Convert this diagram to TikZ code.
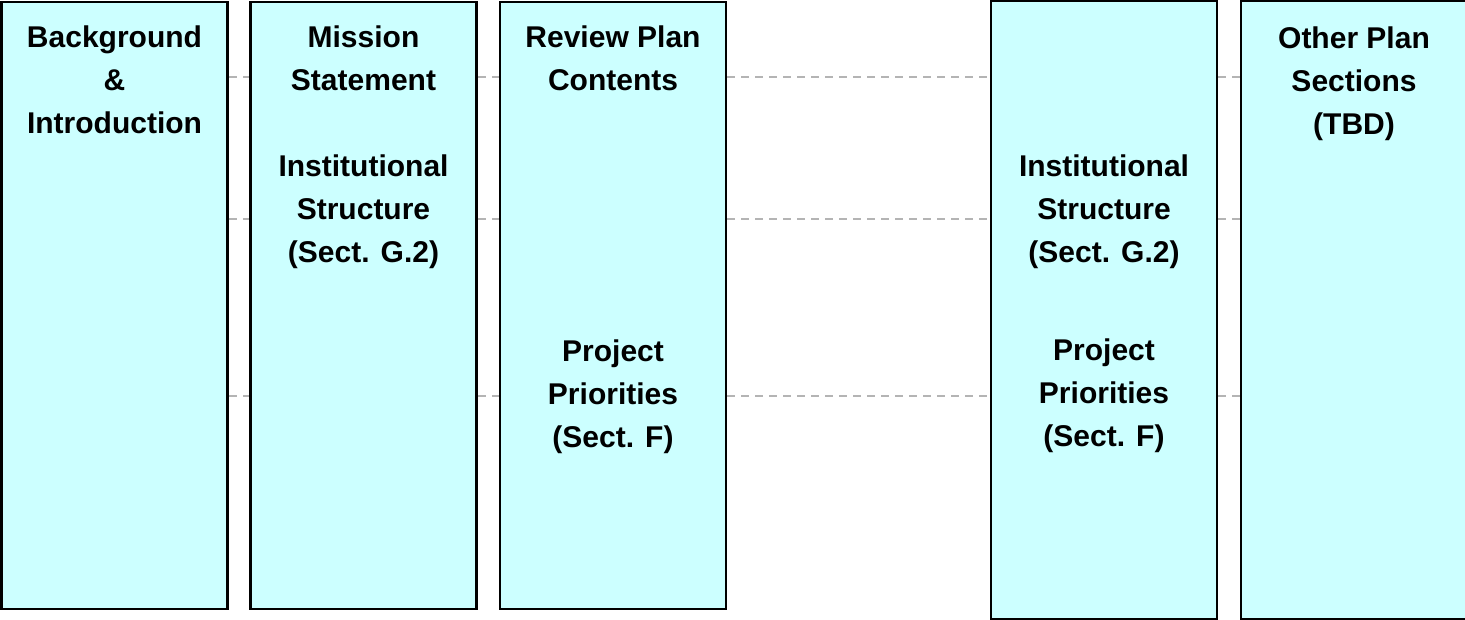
\documentclass[tikz,border=0pt]{standalone}
\usepackage{fontspec}
\setmainfont{Liberation Sans}
\definecolor{boxfill}{HTML}{CCFFFF}
\definecolor{dashgray}{HTML}{B4B4B4}
\begin{document}
\begin{tikzpicture}[x=1pt,y=-1pt,
  panel/.style={draw=black,line width=2.6pt,fill=boxfill,rectangle,inner sep=0pt,minimum width=226pt},
  lbl/.style={align=center,font=\fontsize{30}{43}\selectfont\bfseries,inner sep=0pt},
  guide/.style={draw=dashgray,line width=1.6pt,dash pattern=on 8pt off 6pt}]
\useasboundingbox (0,0) rectangle (1465,620);
\clip (0,0) rectangle (1465,620);
% guide coordinates
\coordinate (g1) at (0,77);
\coordinate (g2) at (0,219);
\coordinate (g3) at (0,396);
% boxes
\node[panel,minimum height=607pt] (b1) at (114.5,305.5) {};
\node[panel,minimum height=607pt] (b2) at (363.5,305.5) {};
\node[panel,minimum height=607pt] (b3) at (613,305.5) {};
\node[panel,minimum height=618pt] (b4) at (1104,310) {};
\node[panel,minimum height=618pt] (b5) at (1354,310) {};
% dashed guides between boxes
\foreach \g in {g1,g2,g3}{
  \draw[guide] (b1.east |- \g) -- (b2.west |- \g);
  \draw[guide] (b2.east |- \g) -- (b3.west |- \g);
  \draw[guide] (b3.east |- \g) -- (b4.west |- \g);
  \draw[guide] (b4.east |- \g) -- (b5.west |- \g);
}
% labels
\node[lbl] (t1) at (114.5,80) {Background\\\&\\Introduction};
\node[lbl] (t2a) at (363.5,58.5) {Mission\\Statement};
\node[lbl] (t2b) at (363.5,212) {Institutional\\Structure\\(Sect. G.2)};
\node[lbl] (t3a) at (613,58.5) {Review Plan\\Contents};
\node[lbl] (t3b) at (613,396.5) {Project\\Priorities\\(Sect. F)};
\node[lbl] (t4a) at (1104,212) {Institutional\\Structure\\(Sect. G.2)};
\node[lbl] (t4b) at (1104,396) {Project\\Priorities\\(Sect. F)};
\node[lbl] (t5) at (1354,83.5) {Other Plan\\Sections\\(TBD)};
\end{tikzpicture}
\end{document}
